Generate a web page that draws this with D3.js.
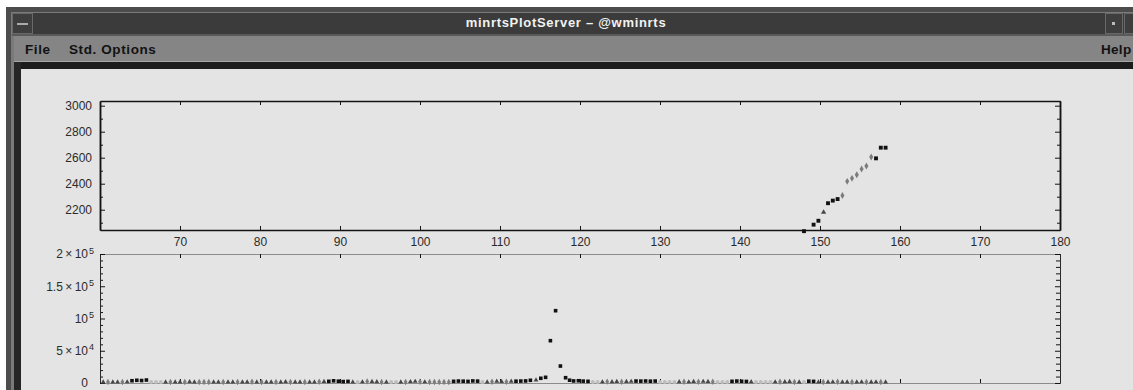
<!DOCTYPE html>
<html>
<head>
<meta charset="utf-8">
<script src="https://cdn.jsdelivr.net/npm/d3@7/dist/d3.min.js"></script>
<style>
  body { margin: 0; background: #fff; overflow: hidden; }
  svg { display: block; font-family: 'Liberation Sans', Arial, sans-serif; }
</style>
</head>
<body>
<svg id="chart" width="1133" height="390"></svg>
<script>
// top panel: points of the upper trace (x, value, marker class)
const topX = [148.0, 149.2, 149.8, 150.45, 151.0, 151.6, 152.2, 152.8, 153.4, 154.0,
  154.6, 155.2, 155.8, 156.4, 157.0, 157.6, 158.2];
const topY = [2035, 2085, 2115, 2180, 2250, 2270, 2282, 2310, 2418, 2441,
  2469, 2513, 2536, 2605, 2595, 2677, 2677];
const topCat = [1, 1, 1, 2, 1, 1, 1, 3, 3, 3, 3, 3, 3, 3, 1, 1, 1];

// bottom panel: intensity trace
const botX = [
  60.4, 61.0, 61.6, 62.2, 62.8, 63.4, 64.0, 64.6, 65.2, 65.8,
  66.4, 67.0, 67.6, 68.2, 68.8, 69.4, 70.0, 70.6, 71.2, 71.8,
  72.4, 73.0, 73.6, 74.2, 74.8, 75.4, 76.0, 76.6, 77.2, 77.8,
  78.4, 79.0, 79.6, 80.2, 80.8, 81.4, 82.0, 82.6, 83.2, 83.8,
  84.4, 85.0, 85.6, 86.2, 86.8, 87.4, 88.0, 88.6, 89.2, 89.8,
  90.4, 91.0, 91.6, 92.2, 92.8, 93.4, 94.0, 94.6, 95.2, 95.8,
  96.4, 97.0, 97.6, 98.2, 98.8, 99.4, 100.0, 100.6, 101.2, 101.8,
  102.4, 103.0, 103.6, 104.2, 104.8, 105.4, 106.0, 106.6, 107.2, 107.8,
  108.4, 109.0, 109.6, 110.2, 110.8, 111.4, 112.0, 112.6, 113.2, 113.8,
  114.5, 115.1, 115.7, 116.3, 116.95, 117.55, 118.2, 118.7, 119.2, 119.8,
  120.4, 121.0, 121.6, 122.2, 122.8, 123.4, 124.0, 124.6, 125.2, 125.8,
  126.4, 127.0, 127.6, 128.2, 128.8, 129.4, 130.0, 130.6, 131.2, 131.8,
  132.4, 133.0, 133.6, 134.2, 134.8, 135.4, 136.0, 136.6, 137.2, 137.8,
  138.4, 139.0, 139.6, 140.2, 140.8, 141.4, 142.0, 142.6, 143.2, 143.8,
  144.4, 145.0, 145.6, 146.2, 146.8, 147.4, 148.0, 148.6, 149.2, 149.8,
  150.4, 151.0, 151.6, 152.2, 152.8, 153.4, 154.0, 154.6, 155.2, 155.8,
  156.4, 157.0, 157.6, 158.2];
const botY = [
  1200, 900, 1500, 1100, 1300, 1600, 3500, 4200, 3800, 4600,
  1000, 800, 1100, 1400, 1700, 1200, 1500, 1300, 1800, 1400,
  1100, 1300, 1000, 1500, 1200, 1600, 1400, 1300, 1700, 1500,
  1200, 1900, 1400, 1600, 1300, 1500, 1200, 1400, 1800, 1600,
  1300, 1500, 1700, 1200, 1400, 1800, 2300, 2600, 3400, 2800,
  2200, 2500, 1500, 900, 1600, 2500, 2100, 1800, 1500, 1400,
  1000, 1100, 1500, 1700, 2000, 2400, 1800, 1600, 1200, 1400,
  1300, 1500, 1200, 2600, 3000, 2800, 2500, 3200, 2900, 1000,
  1400, 1800, 2600, 2200, 1900, 2500, 2800, 3000, 3200, 4200,
  4600, 7300, 8800, 65600, 112100, 26300, 8200, 4300, 3200, 3500,
  2900, 2600, 1100, 1000, 1700, 2100, 1900, 2300, 2000, 2200,
  2400, 3000, 2900, 3100, 2800, 3000, 1000, 1200, 1100, 1300,
  1800, 2000, 1700, 2200, 1900, 2400, 2100, 1800, 1200, 1000,
  1300, 2600, 3000, 2700, 2400, 1900, 1100, 1000, 1300, 1200,
  1600, 1900, 1800, 2200, 1700, 1500, 1100, 2800, 2500, 1500,
  1700, 1400, 1600, 1800, 1500, 1300, 1600, 1400, 1700, 1500,
  1300, 1600, 1400, 1500];
const botCat = [
  2, 3, 2, 2, 3, 2, 1, 1, 1, 1,
  4, 4, 4, 2, 3, 2, 2, 3, 2, 2,
  3, 3, 3, 2, 2, 3, 2, 2, 3, 2,
  2, 3, 2, 3, 2, 2, 3, 2, 2, 3,
  2, 2, 3, 2, 2, 3, 2, 1, 1, 1,
  1, 1, 2, 4, 2, 3, 2, 2, 3, 2,
  4, 4, 2, 3, 2, 2, 3, 2, 3, 3,
  3, 3, 3, 1, 1, 1, 1, 1, 1, 4,
  2, 3, 2, 2, 3, 2, 1, 1, 1, 1,
  2, 1, 1, 1, 1, 1, 1, 1, 1, 1,
  1, 1, 4, 4, 2, 3, 2, 2, 3, 2,
  2, 1, 1, 1, 1, 1, 4, 4, 4, 4,
  2, 3, 2, 2, 3, 2, 2, 3, 4, 4,
  4, 1, 1, 1, 1, 2, 4, 4, 4, 4,
  2, 3, 2, 2, 3, 2, 4, 1, 1, 2,
  3, 2, 2, 3, 2, 2, 3, 2, 2, 3,
  2, 2, 3, 2];

// axis ticks
const xTicks = [70, 80, 90, 100, 110, 120, 130, 140, 150, 160, 170, 180];
const topMajor = [2200, 2400, 2600, 2800, 3000];
const topMinor = [2100, 2300, 2500, 2700, 2900];
const botMajor = [0, 50000, 100000, 150000, 200000];
const botLabels = [['0', ''], ['5\u2009×\u200910', '4'], ['10', '5'], ['1.5\u2009×\u200910', '5'], ['2\u2009×\u200910', '5']];

const svg = d3.select('#chart');

// ---- window chrome ----
const chrome = svg.append('g');
chrome.append('rect').attr('x', 0).attr('y', 0).attr('width', 1133).attr('height', 390).attr('fill', '#fff');
chrome.append('rect').attr('x', 6).attr('y', 7).attr('width', 1127).attr('height', 383).attr('fill', '#4c4c4c');
chrome.append('rect').attr('x', 11).attr('y', 12).attr('width', 1122).attr('height', 378).attr('fill', '#7a7a7a');
chrome.append('rect').attr('x', 12).attr('y', 13).attr('width', 1121).attr('height', 21).attr('fill', '#3b3b3b');
// title bar buttons
chrome.append('rect').attr('x', 12.5).attr('y', 13.5).attr('width', 20).attr('height', 20)
  .attr('fill', '#3e3e3e').attr('stroke', '#686868');
chrome.append('line').attr('x1', 17).attr('x2', 28).attr('y1', 24).attr('y2', 24)
  .attr('stroke', '#cfcfcf').attr('stroke-width', 1.5);
chrome.append('rect').attr('x', 1105.5).attr('y', 13.5).attr('width', 17).attr('height', 20)
  .attr('fill', '#3e3e3e').attr('stroke', '#686868');
chrome.append('rect').attr('x', 1112).attr('y', 22).attr('width', 3).attr('height', 3).attr('fill', '#bbb');
chrome.append('rect').attr('x', 1124.5).attr('y', 13.5).attr('width', 12).attr('height', 20)
  .attr('fill', '#3e3e3e').attr('stroke', '#686868');
chrome.append('text').attr('x', 566).attr('y', 27).attr('text-anchor', 'middle')
  .attr('fill', '#f2f2f2').style('font-size', '13px').style('font-weight', 'bold')
  .style('letter-spacing', '0.7px').text('minrtsPlotServer – @wminrts');
// menu bar
chrome.append('rect').attr('x', 12).attr('y', 34).attr('width', 1121).attr('height', 2).attr('fill', '#5a5a5a');
chrome.append('rect').attr('x', 14).attr('y', 36).attr('width', 1119).attr('height', 26).attr('fill', '#858585');
chrome.append('rect').attr('x', 14).attr('y', 61).attr('width', 1119).attr('height', 1).attr('fill', '#a6a6a6');
chrome.append('rect').attr('x', 14).attr('y', 62).attr('width', 1119).attr('height', 7).attr('fill', '#1c1c1c');
chrome.append('rect').attr('x', 14).attr('y', 62).attr('width', 7).attr('height', 328).attr('fill', '#262626');
const menu = chrome.append('g').attr('fill', '#121212').style('font-size', '13.5px')
  .style('font-weight', 'bold').style('letter-spacing', '0.6px');
menu.append('text').attr('x', 25).attr('y', 54).text('File');
menu.append('text').attr('x', 69).attr('y', 54).text('Std. Options');
menu.append('text').attr('x', 1101).attr('y', 54).style('letter-spacing', '0.3px').text('Help');
// plot canvas
chrome.append('rect').attr('x', 21).attr('y', 69).attr('width', 1112).attr('height', 321).attr('fill', '#e4e4e4');

// ---- scales ----
const x = d3.scaleLinear().domain([60, 180]).range([100, 1060]);
const yTop = d3.scaleLinear().domain([2044, 3036]).range([230, 101]);
const yBot = d3.scaleLinear().domain([0, 200000]).range([383, 254]);

const color = d3.scaleOrdinal().domain([1, 2, 3, 4]).range(['#111', '#474747', '#7c7c7c', '#bdbdbd']);
const shape = d3.scaleOrdinal().domain([1, 2, 3, 4])
  .range([d3.symbolSquare, d3.symbolTriangle, d3.symbolDiamond, d3.symbolCircle]);
const size = d3.scaleOrdinal().domain([1, 2, 3, 4]).range([13, 10, 12, 12]);

const axisColor = '#141414';
const labelColor = '#2b2b2b';

function styleAxis(g, stroke, width) {
  g.attr('color', stroke);
  g.select('.domain').attr('stroke-width', width);
  g.selectAll('.tick line').attr('stroke', axisColor).attr('stroke-width', 1);
  g.selectAll('.tick text').attr('fill', labelColor).style('font-size', '12px')
    .style('font-family', "'Liberation Sans', Arial, sans-serif");
}

// ---- top panel ----
const pTop = svg.append('g');
pTop.append('g').attr('transform', 'translate(0,101)')
  .call(d3.axisTop(x).tickValues(xTicks).tickSizeInner(-4).tickSizeOuter(0).tickFormat(''))
  .call(g => styleAxis(g, axisColor, 1.5));
pTop.append('g').attr('transform', 'translate(0,230)')
  .call(d3.axisBottom(x).tickValues(xTicks).tickSizeInner(-4).tickSizeOuter(0).tickPadding(7).tickFormat(d3.format('d')))
  .call(g => styleAxis(g, axisColor, 1.5));
pTop.append('g').attr('transform', 'translate(100,0)')
  .call(d3.axisLeft(yTop).tickValues(topMinor).tickSizeInner(-3).tickSizeOuter(0).tickFormat(''))
  .call(g => styleAxis(g, axisColor, 1.5));
pTop.append('g').attr('transform', 'translate(100,0)')
  .call(d3.axisLeft(yTop).tickValues(topMajor).tickSizeInner(-5).tickSizeOuter(0).tickPadding(8).tickFormat(d3.format('d')))
  .call(g => styleAxis(g, axisColor, 1.5));
pTop.append('g').attr('transform', 'translate(1060,0)')
  .call(d3.axisRight(yTop).tickValues(topMinor).tickSizeInner(-3).tickSizeOuter(0).tickFormat(''))
  .call(g => styleAxis(g, axisColor, 1.5));
pTop.append('g').attr('transform', 'translate(1060,0)')
  .call(d3.axisRight(yTop).tickValues(topMajor).tickSizeInner(-5).tickSizeOuter(0).tickFormat(''))
  .call(g => styleAxis(g, axisColor, 1.5));

pTop.selectAll('path.pt')
  .data(d3.range(topX.length))
  .join('path')
  .attr('class', 'pt')
  .attr('transform', i => `translate(${x(topX[i])},${yTop(topY[i])})`)
  .attr('d', i => d3.symbol(shape(topCat[i]), size(topCat[i]) + 2)())
  .attr('fill', i => color(topCat[i]));

// ---- bottom panel ----
const pBot = svg.append('g');
const botMinor = d3.range(0, 200001, 10000).filter(v => v % 50000 !== 0);
pBot.append('g').attr('transform', 'translate(0,254)')
  .call(d3.axisTop(x).tickValues(xTicks).tickSizeInner(-4).tickSizeOuter(0).tickFormat(''))
  .call(g => styleAxis(g, '#8c8c8c', 1));
pBot.append('g').attr('transform', 'translate(0,383)')
  .call(d3.axisBottom(x).tickValues(xTicks).tickSizeInner(-4).tickSizeOuter(0).tickFormat(''))
  .call(g => styleAxis(g, '#8c8c8c', 1));
pBot.append('g').attr('transform', 'translate(100,0)')
  .call(d3.axisLeft(yBot).tickValues(botMinor).tickSizeInner(-3).tickSizeOuter(0).tickFormat(''))
  .call(g => styleAxis(g, '#2a2a2a', 1));
pBot.append('g').attr('transform', 'translate(100,0)')
  .call(d3.axisLeft(yBot).tickValues(botMajor).tickSizeInner(-5).tickSizeOuter(0).tickFormat(''))
  .call(g => styleAxis(g, '#2a2a2a', 1));
pBot.append('g').attr('transform', 'translate(1060,0)')
  .call(d3.axisRight(yBot).tickValues(botMinor).tickSizeInner(-4).tickSizeOuter(0).tickFormat(''))
  .call(g => styleAxis(g, '#2a2a2a', 1));
pBot.append('g').attr('transform', 'translate(1060,0)')
  .call(d3.axisRight(yBot).tickValues(botMajor).tickSizeInner(-5).tickSizeOuter(0).tickFormat(''))
  .call(g => styleAxis(g, '#2a2a2a', 1));

// y labels with superscript exponents
const yl = pBot.selectAll('g.ylab')
  .data(botMajor)
  .join('g')
  .attr('class', 'ylab')
  .attr('transform', (d) => `translate(88,${yBot(d)})`)
  .attr('fill', labelColor);
yl.append('text')
  .attr('text-anchor', 'end')
  .attr('dy', '0.36em')
  .style('font-size', '12px')
  .text((d, i) => botLabels[i][0]);
yl.append('text')
  .attr('x', 1)
  .attr('dy', '-0.05em')
  .style('font-size', '9px')
  .text((d, i) => botLabels[i][1]);

pBot.selectAll('path.pt')
  .data(d3.range(botX.length))
  .join('path')
  .attr('class', 'pt')
  .attr('transform', i => `translate(${x(botX[i])},${Math.min(yBot(botY[i]), 382)})`)
  .attr('d', i => d3.symbol(shape(botCat[i]), size(botCat[i]))())
  .attr('fill', i => color(botCat[i]));
</script>
</body>
</html>
